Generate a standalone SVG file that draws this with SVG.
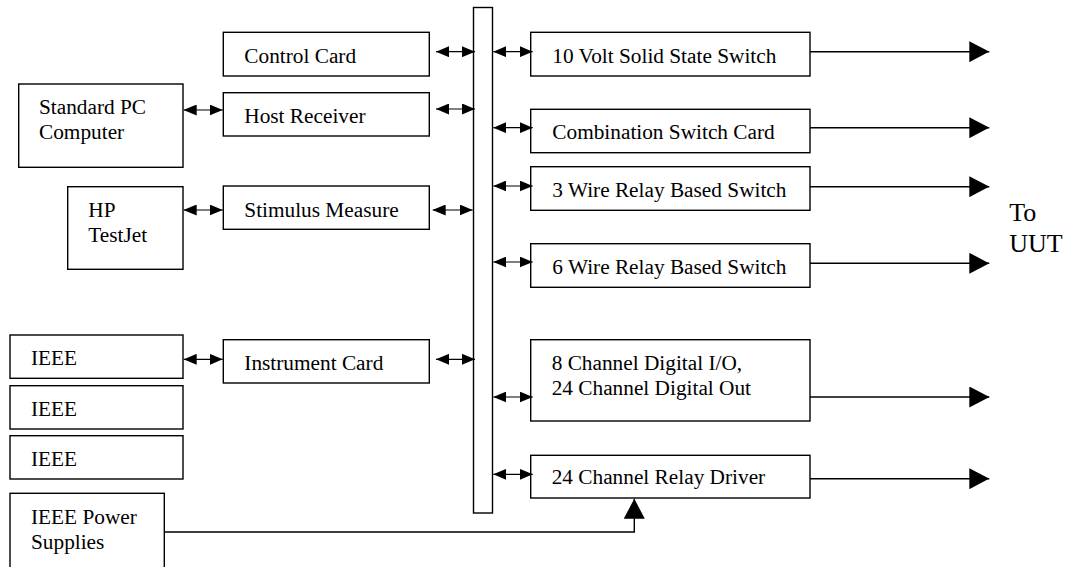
<svg xmlns="http://www.w3.org/2000/svg" width="1076" height="567" viewBox="0 0 1076 567">
<style>
.box{fill:#fff;stroke:#000;stroke-width:1.4}
.t{font-family:"Liberation Serif","Times New Roman",serif;font-size:21.3px;fill:#000}
.uut{font-family:"Liberation Serif","Times New Roman",serif;font-size:26px;fill:#000}
.bi{stroke:#000;stroke-width:1.2;fill:none;marker-start:url(#sm);marker-end:url(#sm)}
.out{stroke:#000;stroke-width:1.4;fill:none;marker-end:url(#big)}
</style>
<defs>
<marker id="sm" markerUnits="userSpaceOnUse" markerWidth="13" markerHeight="11" refX="13" refY="5.5" orient="auto-start-reverse">
<path d="M0,0 L13,5.5 L0,11 z" fill="#000"/>
</marker>
<marker id="big" markerUnits="userSpaceOnUse" markerWidth="20" markerHeight="21" refX="20" refY="10.5" orient="auto">
<path d="M0,0 L20,10.5 L0,21 z" fill="#000"/>
</marker>
</defs>
<rect width="1076" height="567" fill="#fff"/>

<g id="bus"><rect class="box" x="473.5" y="7.5" width="19" height="505.5"/></g>

<g id="control-card"><rect class="box" x="223.3" y="32.3" width="206" height="43.7"/><text class="t" x="244.3" y="63.3">Control Card</text></g>
<g id="host-receiver"><rect class="box" x="223.3" y="92.7" width="206" height="43.3"/><text class="t" x="244.3" y="123.3">Host Receiver</text></g>
<g id="stimulus-measure"><rect class="box" x="223.3" y="186" width="206" height="43.3"/><text class="t" x="244.3" y="216.7">Stimulus Measure</text></g>
<g id="instrument-card"><rect class="box" x="223.3" y="339.7" width="206" height="43.3"/><text class="t" x="244.3" y="370.3">Instrument Card</text></g>

<g id="standard-pc"><rect class="box" x="18.7" y="84" width="164.3" height="83.3"/><text class="t" x="39" y="114.3">Standard PC</text><text class="t" x="39" y="139.3">Computer</text></g>
<g id="hp-testjet"><rect class="box" x="67.7" y="186.7" width="115.3" height="82.6"/><text class="t" x="88.3" y="217.3">HP</text><text class="t" x="88.3" y="242.3">TestJet</text></g>
<g id="ieee-1"><rect class="box" x="10" y="335" width="173" height="43.3"/><text class="t" x="31" y="365.3">IEEE</text></g>
<g id="ieee-2"><rect class="box" x="10" y="385.7" width="173" height="43.3"/><text class="t" x="31" y="416">IEEE</text></g>
<g id="ieee-3"><rect class="box" x="10" y="435.7" width="173" height="43.3"/><text class="t" x="31" y="466">IEEE</text></g>
<g id="ieee-power"><rect class="box" x="10" y="493.3" width="154.3" height="90"/><text class="t" x="31" y="523.7">IEEE Power</text><text class="t" x="31" y="548.7">Supplies</text></g>

<g id="solid-state-switch"><rect class="box" x="530.7" y="32.3" width="279.3" height="43.7"/><text class="t" x="552.3" y="62.7">10 Volt Solid State Switch</text></g>
<g id="combination-switch"><rect class="box" x="530.7" y="109.3" width="279.3" height="43.4"/><text class="t" x="552.3" y="138.7">Combination Switch Card</text></g>
<g id="three-wire"><rect class="box" x="530.7" y="166.7" width="279.3" height="43.6"/><text class="t" x="552.3" y="197.3">3 Wire Relay Based Switch</text></g>
<g id="six-wire"><rect class="box" x="530.7" y="243.7" width="279.3" height="43.6"/><text class="t" x="552.3" y="274">6 Wire Relay Based Switch</text></g>
<g id="digital-io"><rect class="box" x="530.7" y="339.7" width="279.3" height="81.3"/><text class="t" x="551.7" y="370.3">8 Channel Digital I/O,</text><text class="t" x="551.7" y="395.3">24 Channel Digital Out</text></g>
<g id="relay-driver"><rect class="box" x="530.7" y="455.3" width="279.3" height="42.7"/><text class="t" x="551.7" y="484.3">24 Channel Relay Driver</text></g>

<g id="to-uut"><text class="uut" x="1009.3" y="221">To</text><text class="uut" x="1009.3" y="251.7">UUT</text></g>

<g id="connectors">
<line class="bi" x1="436" y1="51.7" x2="475" y2="51.7"/>
<line class="bi" x1="436" y1="109" x2="475" y2="109"/>
<line class="bi" x1="432.7" y1="210" x2="472.7" y2="210"/>
<line class="bi" x1="436" y1="359.3" x2="475" y2="359.3"/>
<line class="bi" x1="183.7" y1="110" x2="222.7" y2="110"/>
<line class="bi" x1="183.7" y1="210" x2="222.7" y2="210"/>
<line class="bi" x1="183.7" y1="359.3" x2="222.7" y2="359.3"/>
<line class="bi" x1="493.3" y1="51.7" x2="532.7" y2="51.7"/>
<line class="bi" x1="493.3" y1="127.7" x2="532.7" y2="127.7"/>
<line class="bi" x1="493.3" y1="186" x2="532.7" y2="186"/>
<line class="bi" x1="493.3" y1="262" x2="532.7" y2="262"/>
<line class="bi" x1="493.3" y1="397" x2="532.7" y2="397"/>
<line class="bi" x1="493.3" y1="474.3" x2="532.7" y2="474.3"/>
<line class="out" x1="810" y1="51.7" x2="989.3" y2="51.7"/>
<line class="out" x1="810" y1="127.7" x2="989.3" y2="127.7"/>
<line class="out" x1="810" y1="186.7" x2="989.3" y2="186.7"/>
<line class="out" x1="810" y1="263.3" x2="989.3" y2="263.3"/>
<line class="out" x1="810" y1="397" x2="989.3" y2="397"/>
<line class="out" x1="810" y1="478.7" x2="989.3" y2="478.7"/>
<polyline class="out" points="164.3,532 634.3,532 634.3,498.7"/>
</g>
</svg>
